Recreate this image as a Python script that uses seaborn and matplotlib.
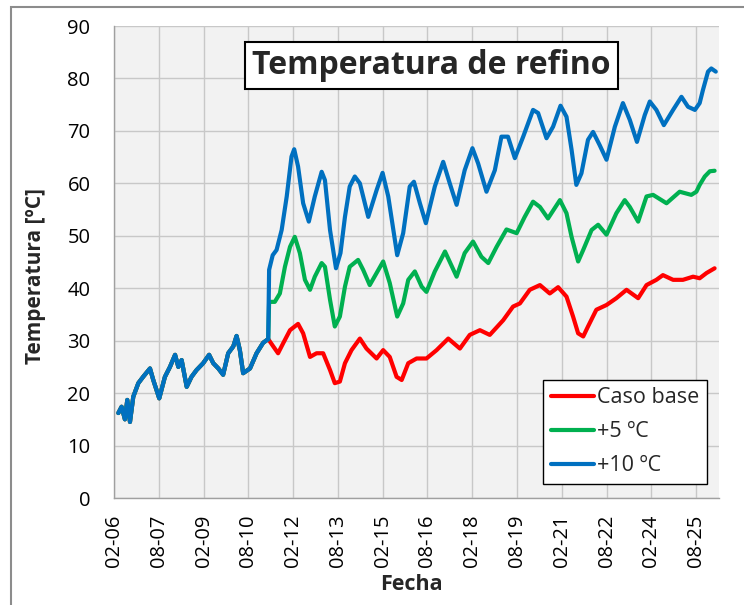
import numpy as np
import pandas as pd
import seaborn as sns
import matplotlib.pyplot as plt
import matplotlib.dates as mdates
from matplotlib.lines import Line2D
from matplotlib.patches import Rectangle

# Fechas en años decimales, temperaturas en ºC
hist_year = [2006.23, 2006.34, 2006.45, 2006.53, 2006.62, 2006.73, 2006.90, 2007.06,
             2007.29, 2007.40, 2007.60, 2007.79, 2007.96, 2008.13, 2008.24, 2008.35,
             2008.52, 2008.68, 2008.85, 2009.07, 2009.27, 2009.41, 2009.58, 2009.74,
             2009.91, 2010.08, 2010.19, 2010.30, 2010.41, 2010.64, 2010.86, 2011.08,
             2011.25]
hist_temp = [16.2, 17.4, 15.0, 18.7, 14.5, 19.3, 21.9, 23.1,
             24.7, 22.5, 19.0, 23.1, 25.0, 27.3, 25.0, 26.3,
             21.2, 23.1, 24.4, 25.7, 27.3, 25.7, 24.7, 23.5,
             27.6, 28.9, 30.9, 28.2, 23.8, 24.7, 27.6, 29.6,
             30.3]

base_year = [2011.42, 2011.58, 2011.75, 2011.98, 2012.25, 2012.42, 2012.65, 2012.87,
             2013.09, 2013.32, 2013.48, 2013.65, 2013.82, 2014.04, 2014.32, 2014.54,
             2014.88, 2015.10, 2015.32, 2015.55, 2015.72, 2015.94, 2016.22, 2016.55,
             2016.89, 2017.28, 2017.67, 2018.00, 2018.34, 2018.67, 2019.12, 2019.45,
             2019.68, 2020.01, 2020.35, 2020.68, 2020.96, 2021.24, 2021.46, 2021.63,
             2021.80, 2021.96, 2022.24, 2022.58, 2022.91, 2023.25, 2023.64, 2023.92,
             2024.25, 2024.47, 2024.81, 2025.14, 2025.48, 2025.70, 2025.93, 2026.20]
base_temp = [28.9, 27.6, 29.5, 32.0, 33.2, 31.4, 26.9, 27.6,
             27.6, 24.4, 21.9, 22.2, 25.7, 28.2, 30.4, 28.5,
             26.6, 28.2, 26.9, 23.1, 22.5, 25.7, 26.6, 26.6,
             28.2, 30.4, 28.5, 31.1, 32.0, 31.1, 33.9, 36.5,
             37.1, 39.7, 40.6, 39.0, 40.2, 38.4, 34.6, 31.4,
             30.8, 32.7, 35.9, 36.8, 38.1, 39.7, 38.1, 40.6,
             41.6, 42.5, 41.6, 41.6, 42.2, 41.9, 42.9, 43.8]

plus5_year = [2011.28, 2011.47, 2011.64, 2011.81, 2011.98, 2012.14, 2012.31, 2012.48,
              2012.65, 2012.81, 2013.04, 2013.15, 2013.32, 2013.48, 2013.65, 2013.82,
              2013.98, 2014.26, 2014.43, 2014.65, 2014.88, 2015.10, 2015.32, 2015.57,
              2015.77, 2015.94, 2016.16, 2016.39, 2016.55, 2016.83, 2017.17, 2017.56,
              2017.83, 2018.11, 2018.39, 2018.62, 2018.90, 2019.23, 2019.57, 2019.84,
              2020.12, 2020.35, 2020.62, 2021.02, 2021.24, 2021.41, 2021.63, 2021.80,
              2022.08, 2022.30, 2022.58, 2022.91, 2023.19, 2023.36, 2023.64, 2023.92,
              2024.14, 2024.59, 2025.03, 2025.42, 2025.59, 2025.70, 2025.87, 2026.04,
              2026.20]
plus5_temp = [37.4, 37.4, 39.0, 44.1, 47.9, 49.8, 46.7, 41.6,
              39.7, 42.2, 44.8, 44.1, 37.8, 32.7, 34.6, 40.3,
              44.1, 45.4, 43.5, 40.6, 42.9, 45.1, 41.0, 34.6,
              37.1, 41.6, 43.2, 40.3, 39.3, 43.2, 47.0, 42.2,
              46.7, 48.9, 46.0, 44.8, 47.9, 51.2, 50.5, 53.6,
              56.5, 55.5, 53.3, 56.8, 54.3, 49.8, 45.1, 47.3,
              51.1, 52.1, 50.2, 54.3, 56.8, 55.5, 52.7, 57.5,
              57.8, 56.2, 58.4, 57.8, 58.4, 59.7, 61.3, 62.3,
              62.4]

plus10_year = [2011.28, 2011.40, 2011.53, 2011.70, 2011.87, 2012.03, 2012.12, 2012.25,
               2012.42, 2012.61, 2012.81, 2013.04, 2013.15, 2013.32, 2013.52, 2013.67,
               2013.82, 2013.98, 2014.15, 2014.32, 2014.60, 2014.88, 2015.08, 2015.27,
               2015.57, 2015.77, 2015.99, 2016.13, 2016.33, 2016.53, 2016.83, 2017.11,
               2017.33, 2017.56, 2017.83, 2018.09, 2018.28, 2018.56, 2018.84, 2019.06,
               2019.28, 2019.51, 2019.79, 2020.12, 2020.29, 2020.57, 2020.79, 2021.04,
               2021.24, 2021.41, 2021.57, 2021.74, 2021.96, 2022.13, 2022.35, 2022.58,
               2022.86, 2023.13, 2023.36, 2023.60, 2023.86, 2024.03, 2024.25, 2024.50,
               2024.81, 2025.09, 2025.31, 2025.54, 2025.70, 2025.81, 2025.98, 2026.09,
               2026.24]
plus10_temp = [43.5, 46.3, 47.3, 51.1, 57.5, 65.1, 66.5, 63.2,
               56.2, 52.7, 57.5, 62.2, 60.6, 51.1, 43.8, 46.7,
               53.6, 59.4, 61.3, 60.0, 53.6, 58.7, 62.0, 57.5,
               46.3, 50.5, 59.4, 60.3, 56.2, 52.4, 59.4, 64.1,
               60.0, 55.9, 62.5, 66.7, 63.8, 58.4, 62.5, 68.9,
               68.9, 64.8, 68.9, 74.0, 73.4, 68.6, 70.8, 74.8,
               72.7, 66.4, 59.7, 61.9, 68.3, 69.8, 67.3, 64.5,
               70.8, 75.3, 72.1, 67.9, 73.0, 75.6, 74.0, 71.1,
               74.0, 76.5, 74.6, 74.0, 75.3, 77.8, 81.3, 81.9,
               81.3]

series_names = ["Caso base", "+5 ºC", "+10 ºC"]
series_colors = ["#FF0000", "#00B050", "#0070C0"]
y_ticks = list(range(0, 91, 10))


def to_date(years):
    years = np.asarray(years, dtype=float)
    return pd.Timestamp("2006-01-01") + pd.to_timedelta((years - 2006) * 365.25, unit="D")


frames = []
for name, yrs, tmp in zip(series_names,
                          [base_year, plus5_year, plus10_year],
                          [base_temp, plus5_temp, plus10_temp]):
    frames.append(pd.DataFrame({
        "Fecha": to_date(hist_year + yrs),
        "Temperatura": hist_temp + tmp,
        "Serie": name,
    }))
df = pd.concat(frames, ignore_index=True)

sns.set_theme(style="white")
plt.rcParams["font.family"] = ["Open Sans", "DejaVu Sans"]

fig = plt.figure(figsize=(7.44, 6.05), dpi=100)
ax = fig.add_axes([114 / 744, 1 - 498 / 605, 605 / 744, 472 / 605])
ax.set_facecolor("#F2F2F2")

sns.lineplot(data=df, x="Fecha", y="Temperatura", hue="Serie",
             hue_order=series_names, palette=dict(zip(series_names, series_colors)),
             estimator=None, sort=False, linewidth=3.0, legend=False, ax=ax,
             solid_joinstyle="round", solid_capstyle="round")

# axes
ax.set_ylim(0, 90)
ax.set_yticks(y_ticks)
ax.set_xlim(pd.Timestamp("2006-02-01"), pd.Timestamp("2026-05-08"))
ax.set_xticks(pd.date_range("2006-02-01", periods=14, freq="18MS"))
ax.xaxis.set_major_formatter(mdates.DateFormatter("%m-%y"))
ax.grid(True, color="#C8C8C8", linewidth=1.0)
ax.set_axisbelow(True)
for side in ["top", "right"]:
    ax.spines[side].set_visible(False)
for side in ["left", "bottom"]:
    ax.spines[side].set_color("#A0A0A0")
    ax.spines[side].set_linewidth(1.0)
ax.tick_params(axis="both", direction="out", length=6, width=1, color="#A0A0A0",
               labelsize=14.5, labelcolor="black")
ax.tick_params(axis="y", pad=11)
ax.tick_params(axis="x", pad=6, labelrotation=90)

ax.set_xlabel("Fecha", fontsize=15.5, fontweight="bold")
ax.set_ylabel("Temperatura [ºC]", fontsize=15, fontweight="bold")
ax.xaxis.set_label_coords(0.491, -0.162)
ax.yaxis.set_label_coords(-0.112, 0.47)

ax.text(0.525, 0.917, "Temperatura de refino", transform=ax.transAxes,
        ha="center", va="center", fontsize=23, fontweight="bold",
        bbox=dict(boxstyle="square,pad=0.22", facecolor="white",
                  edgecolor="black", linewidth=1.5))

handles = [Line2D([0], [0], color=c, linewidth=3.0) for c in series_colors]
leg = ax.legend(handles, series_names, loc="lower right",
                bbox_to_anchor=(0.980, 0.030), fontsize=15.5, frameon=True,
                fancybox=False, handlelength=2.0, handletextpad=0.15,
                labelspacing=0.6, borderpad=0.35, borderaxespad=0)
leg.get_frame().set_edgecolor("black")
leg.get_frame().set_linewidth(1.0)
leg.get_frame().set_facecolor("white")
leg.get_frame().set_alpha(1)

# chart area border
fig.add_artist(Rectangle((11 / 744, -0.1), 1.2, 1 - 7 / 605 + 0.1,
                         transform=fig.transFigure, fill=False,
                         edgecolor="#8C8C8C", linewidth=1.5))

fig.savefig("out.png", dpi=100)
